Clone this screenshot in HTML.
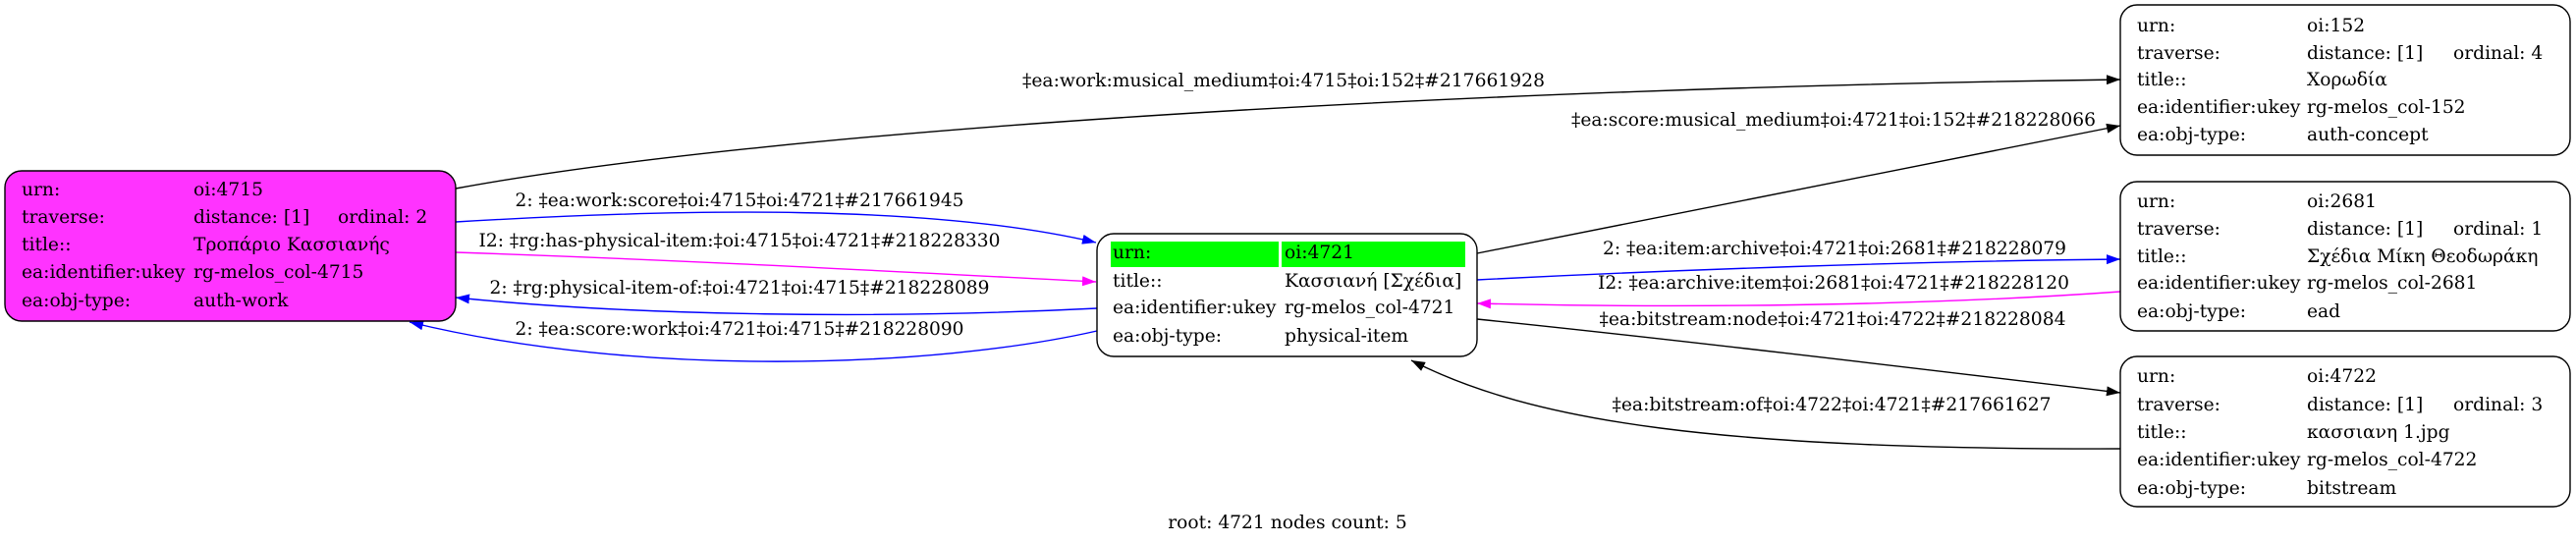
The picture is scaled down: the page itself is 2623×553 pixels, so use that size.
<!DOCTYPE html>
<html>
<head>
<meta charset="utf-8">
<style>
html,body{margin:0;padding:0;background:#fff;}
svg{display:block;}
text{font-family:"DejaVu Serif","Liberation Serif",serif;font-size:18.67px;fill:#000;}
</style>
</head>
<body>
<svg width="2623" height="553" viewBox="0 0 2623 553" xmlns="http://www.w3.org/2000/svg">
<defs>
<marker id="mk" viewBox="0 0 14 10" refX="14" refY="5" markerWidth="14" markerHeight="10" markerUnits="userSpaceOnUse" orient="auto"><path d="M0,0 L14,5 L0,10 Z" fill="#000"/></marker>
<marker id="mb" viewBox="0 0 14 10" refX="14" refY="5" markerWidth="14" markerHeight="10" markerUnits="userSpaceOnUse" orient="auto"><path d="M0,0 L14,5 L0,10 Z" fill="#0000ff"/></marker>
<marker id="mm" viewBox="0 0 14 10" refX="14" refY="5" markerWidth="14" markerHeight="10" markerUnits="userSpaceOnUse" orient="auto"><path d="M0,0 L14,5 L0,10 Z" fill="#ff00ff"/></marker>
</defs>
<rect x="0" y="0" width="2623" height="553" fill="#fff"/>

<!-- edges -->
<g fill="none" stroke-width="1.4">
<path d="M464,192 C800,130 1500,90 2159,81" stroke="#000" marker-end="url(#mk)"/>
<path d="M1504,258 L2159,128" stroke="#000" marker-end="url(#mk)"/>
<path d="M464,226 C700,212 950,208 1116,247" stroke="#0000ff" marker-end="url(#mb)"/>
<path d="M464,257 C700,265 900,276 1116,287" stroke="#ff00ff" marker-end="url(#mm)"/>
<path d="M1117,314 C900,325 650,322 464,303" stroke="#0000ff" marker-end="url(#mb)"/>
<path d="M1117,337 C950,375 650,385 417,328" stroke="#0000ff" marker-end="url(#mb)"/>
<path d="M1504,285 C1700,275 1950,266 2159,264" stroke="#0000ff" marker-end="url(#mb)"/>
<path d="M2159,297 C1950,312 1700,314 1504,309" stroke="#ff00ff" marker-end="url(#mm)"/>
<path d="M1504,325 C1700,345 1950,375 2159,400" stroke="#000" marker-end="url(#mk)"/>
<path d="M2159,457 C1750,458 1560,430 1437,367" stroke="#000" marker-end="url(#mk)"/>
</g>

<!-- edge labels -->
<g text-anchor="middle">
<text x="1307" y="88" textLength="532" lengthAdjust="spacingAndGlyphs">‡ea:work:musical_medium‡oi:4715‡oi:152‡#217661928</text>
<text x="1867" y="128" textLength="534" lengthAdjust="spacingAndGlyphs">‡ea:score:musical_medium‡oi:4721‡oi:152‡#218228066</text>
<text x="753" y="210" textLength="457" lengthAdjust="spacingAndGlyphs">2: ‡ea:work:score‡oi:4715‡oi:4721‡#217661945</text>
<text x="753" y="251" textLength="531" lengthAdjust="spacingAndGlyphs">I2: ‡rg:has-physical-item:‡oi:4715‡oi:4721‡#218228330</text>
<text x="753" y="299" textLength="509" lengthAdjust="spacingAndGlyphs">2: ‡rg:physical-item-of:‡oi:4721‡oi:4715‡#218228089</text>
<text x="753" y="341" textLength="457" lengthAdjust="spacingAndGlyphs">2: ‡ea:score:work‡oi:4721‡oi:4715‡#218228090</text>
<text x="1868" y="259" textLength="472" lengthAdjust="spacingAndGlyphs">2: ‡ea:item:archive‡oi:4721‡oi:2681‡#218228079</text>
<text x="1867" y="294" textLength="480" lengthAdjust="spacingAndGlyphs">I2: ‡ea:archive:item‡oi:2681‡oi:4721‡#218228120</text>
<text x="1866" y="331" textLength="475" lengthAdjust="spacingAndGlyphs">‡ea:bitstream:node‡oi:4721‡oi:4722‡#218228084</text>
<text x="1865" y="418" textLength="447" lengthAdjust="spacingAndGlyphs">‡ea:bitstream:of‡oi:4722‡oi:4721‡#217661627</text>
<text x="1311" y="538">root: 4721 nodes count: 5</text>
</g>

<!-- node 4715 -->
<rect x="5" y="174" width="459" height="153" rx="17" ry="17" fill="#ff33ff" stroke="#000" stroke-width="1.4"/>
<text x="22" y="199">urn:</text><text x="197" y="199">oi:4715</text>
<text x="22" y="227">traverse:</text><text x="197" y="227">distance: [1]</text><text x="344" y="227">ordinal: 2</text>
<text x="22" y="255">title::</text><text x="197" y="255">Τροπάριο Κασσιανής</text>
<text x="22" y="283">ea:identifier:ukey</text><text x="197" y="283">rg-melos_col-4715</text>
<text x="22" y="312">ea:obj-type:</text><text x="197" y="312">auth-work</text>

<!-- node 4721 -->
<rect x="1117" y="238" width="387" height="125" rx="17" ry="17" fill="#fff" stroke="#000" stroke-width="1.4"/>
<rect x="1131" y="246" width="171" height="26" fill="#00ff00"/>
<rect x="1305" y="246" width="187" height="26" fill="#00ff00"/>
<text x="1133" y="263">urn:</text><text x="1308" y="263">oi:4721</text>
<text x="1133" y="292">title::</text><text x="1308" y="292">Κασσιανή [Σχέδια]</text>
<text x="1133" y="319">ea:identifier:ukey</text><text x="1308" y="319">rg-melos_col-4721</text>
<text x="1133" y="348">ea:obj-type:</text><text x="1308" y="348">physical-item</text>

<!-- node 152 -->
<rect x="2159" y="5" width="458" height="153" rx="17" ry="17" fill="#fff" stroke="#000" stroke-width="1.4"/>
<text x="2176" y="32">urn:</text><text x="2349" y="32">oi:152</text>
<text x="2176" y="60">traverse:</text><text x="2349" y="60">distance: [1]</text><text x="2498" y="60">ordinal: 4</text>
<text x="2176" y="87">title::</text><text x="2349" y="87">Χορωδία</text>
<text x="2176" y="115">ea:identifier:ukey</text><text x="2349" y="115">rg-melos_col-152</text>
<text x="2176" y="143">ea:obj-type:</text><text x="2349" y="143">auth-concept</text>

<!-- node 2681 -->
<rect x="2159" y="185" width="458" height="152" rx="17" ry="17" fill="#fff" stroke="#000" stroke-width="1.4"/>
<text x="2176" y="211">urn:</text><text x="2349" y="211">oi:2681</text>
<text x="2176" y="239">traverse:</text><text x="2349" y="239">distance: [1]</text><text x="2498" y="239">ordinal: 1</text>
<text x="2176" y="267">title::</text><text x="2349" y="267">Σχέδια Μίκη Θεοδωράκη</text>
<text x="2176" y="294">ea:identifier:ukey</text><text x="2349" y="294">rg-melos_col-2681</text>
<text x="2176" y="323">ea:obj-type:</text><text x="2349" y="323">ead</text>

<!-- node 4722 -->
<rect x="2159" y="363" width="458" height="153" rx="17" ry="17" fill="#fff" stroke="#000" stroke-width="1.4"/>
<text x="2176" y="389">urn:</text><text x="2349" y="389">oi:4722</text>
<text x="2176" y="418">traverse:</text><text x="2349" y="418">distance: [1]</text><text x="2498" y="418">ordinal: 3</text>
<text x="2176" y="446">title::</text><text x="2349" y="446">κασσιανη 1.jpg</text>
<text x="2176" y="474">ea:identifier:ukey</text><text x="2349" y="474">rg-melos_col-4722</text>
<text x="2176" y="503">ea:obj-type:</text><text x="2349" y="503">bitstream</text>
</svg>
</body>
</html>
